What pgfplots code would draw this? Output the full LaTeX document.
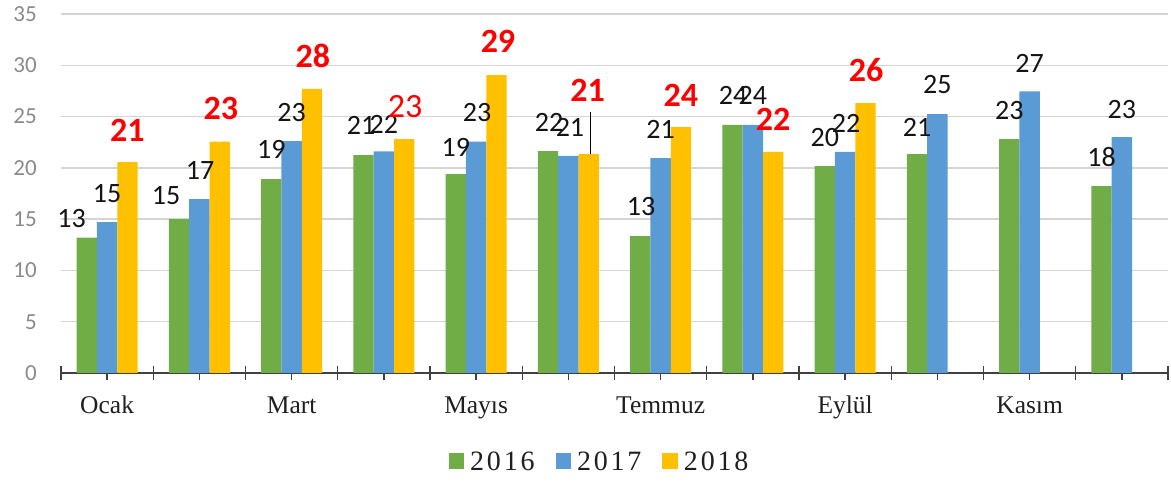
\documentclass[border=0pt]{standalone}
\usepackage{pgfplots}
\pgfplotsset{compat=1.18}
\usepackage{pgfplotstable}
\usepackage{fontspec}
\setmainfont{Liberation Serif}
\newfontfamily\calfont{Carlito}
\newfontfamily\legfont[LetterSpace=10]{Liberation Serif}
\definecolor{c16}{HTML}{70AD47}
\definecolor{c17}{HTML}{5B9BD5}
\definecolor{c18}{HTML}{FFC000}
\definecolor{gridc}{HTML}{D4D4D4}
\definecolor{axc}{HTML}{404040}
\definecolor{tickc}{HTML}{8A8A8A}
\newcommand\blk{\calfont\fontsize{28}{30}\selectfont}
\newcommand\red{\calfont\bfseries\fontsize{34}{36}\selectfont}
\newcommand\nb[1]{{\mdseries #1}}

% bar values
\pgfplotstableread{
x y
0 13.2
1 15.0
2 18.9
3 21.25
4 19.4
5 21.64
6 13.35
7 24.18
8 20.18
9 21.35
10 22.8
11 18.23
}\gA
\pgfplotstableread{
x y
0 14.72
1 16.96
2 22.6
3 21.6
4 22.55
5 21.16
6 20.96
7 24.18
8 21.55
9 25.25
10 27.45
11 23.0
}\gB
\pgfplotstableread{
x y
0 20.57
1 22.55
2 27.7
3 22.8
4 29.05
5 21.35
6 23.98
7 21.55
8 26.3
}\gC
% data label positions (bottom centre of each label)
\pgfplotstableread{
x y lbl
-0.386 14.14 13
0.639 16.37 15
1.780 20.85 19
2.753 23.20 21
3.780 21.06 19
4.791 23.49 22
5.788 15.30 13
6.785 26.13 24
7.780 22.03 20
8.780 23.01 21
9.780 24.65 23
10.780 20.08 18
}\lA
\pgfplotstableread{
x y lbl
0.000 16.57 15
1.007 18.81 17
2.000 24.45 23
3.000 23.36 22
4.011 24.50 23
5.017 23.01 21
6.000 22.81 21
7.000 26.13 24
8.011 23.40 22
9.000 27.20 25
10.000 29.30 27
11.000 24.76 23
}\lB
\pgfplotstableread{
x y lbl
0.220 22.52 21
1.234 24.70 23
2.231 29.75 28
3.231 24.85 \nb{23}
4.237 31.20 29
5.209 26.42 21
6.220 25.93 24
7.220 23.60 22
8.227 28.35 26
}\lC

\pgfplotsset{
  mybar/.style={ybar, bar width=20.3pt, draw=none},
  mylab/.style={draw=none, mark=none, forget plot,
    nodes near coords, point meta=explicit symbolic,
    every node near coord/.append style={anchor=south, inner sep=0pt}},
}

\begin{document}
\begin{tikzpicture}
\path[use as bounding box] (-61pt,-109pt) rectangle (1110pt,373pt);
\begin{axis}[
  scale only axis, width=1107pt, height=359pt,
  xmin=-0.5, xmax=11.5, ymin=0, ymax=35,
  enlargelimits=false, clip=false,
  axis x line*=bottom, axis y line*=left,
  y axis line style={draw=none},
  x axis line style={draw=axc, line width=1.5pt},
  xtick={0,...,11},
  minor xtick={-0.5,0.5,...,11.5},
  xticklabels={Ocak,,Mart,,Mayıs,,Temmuz,,Eylül,,Kasım,},
  tick align=center,
  major tick length=14pt, minor tick length=14pt,
  xtick style={draw=axc, line width=1.3pt},
  minor x tick style={draw=axc, line width=1.3pt},
  ytick={0,5,...,35},
  ytick style={draw=none},
  ymajorgrids, grid style={draw=gridc, line width=1.4pt},
  /pgf/number format/assume math mode=true,
  yticklabel shift=17pt,
  yticklabel style={font=\calfont\fontsize{23}{25}\selectfont, text=tickc, anchor=east, inner sep=0pt},
  xticklabel style={font=\fontsize{25.5}{28}\selectfont, text=black!88, anchor=base, inner sep=0pt, yshift=-33pt},
  legend style={at={(0.4883,-0.2479)}, anchor=center, draw=none, fill=none,
    font=\legfont\fontsize{28}{30}\selectfont, text=black!88,
    inner sep=0pt, nodes={inner xsep=6pt, inner ysep=0pt},
    /tikz/every even column/.append style={column sep=15pt}},
  legend columns=3,
]
\addplot[mybar, fill=c16, bar shift=-20.3pt,
  legend image code/.code={\fill[c16] (0pt,-7pt) rectangle (15.5pt,8.5pt);}]
  table[x=x, y=y]{\gA};
\addlegendentry{2016}
\addplot[mybar, fill=c17, bar shift=0pt,
  legend image code/.code={\fill[c17] (0pt,-7pt) rectangle (15.5pt,8.5pt);}]
  table[x=x, y=y]{\gB};
\addlegendentry{2017}
\addplot[mybar, fill=c18, bar shift=20.3pt,
  legend image code/.code={\fill[c18] (0pt,-7pt) rectangle (15.5pt,8.5pt);}]
  table[x=x, y=y]{\gC};
\addlegendentry{2018}
\addplot[mylab, every node near coord/.append style={font=\blk, text=black!92}]
  table[x=x, y=y, meta=lbl]{\lA};
\addplot[mylab, every node near coord/.append style={font=\blk, text=black!92}]
  table[x=x, y=y, meta=lbl]{\lB};
\addplot[mylab, every node near coord/.append style={font=\red, text=red}]
  table[x=x, y=y, meta=lbl]{\lC};
\addplot[black, line width=1pt, forget plot] coordinates {(5.235,21.35) (5.235,25.45)};
\end{axis}
\end{tikzpicture}
\end{document}
